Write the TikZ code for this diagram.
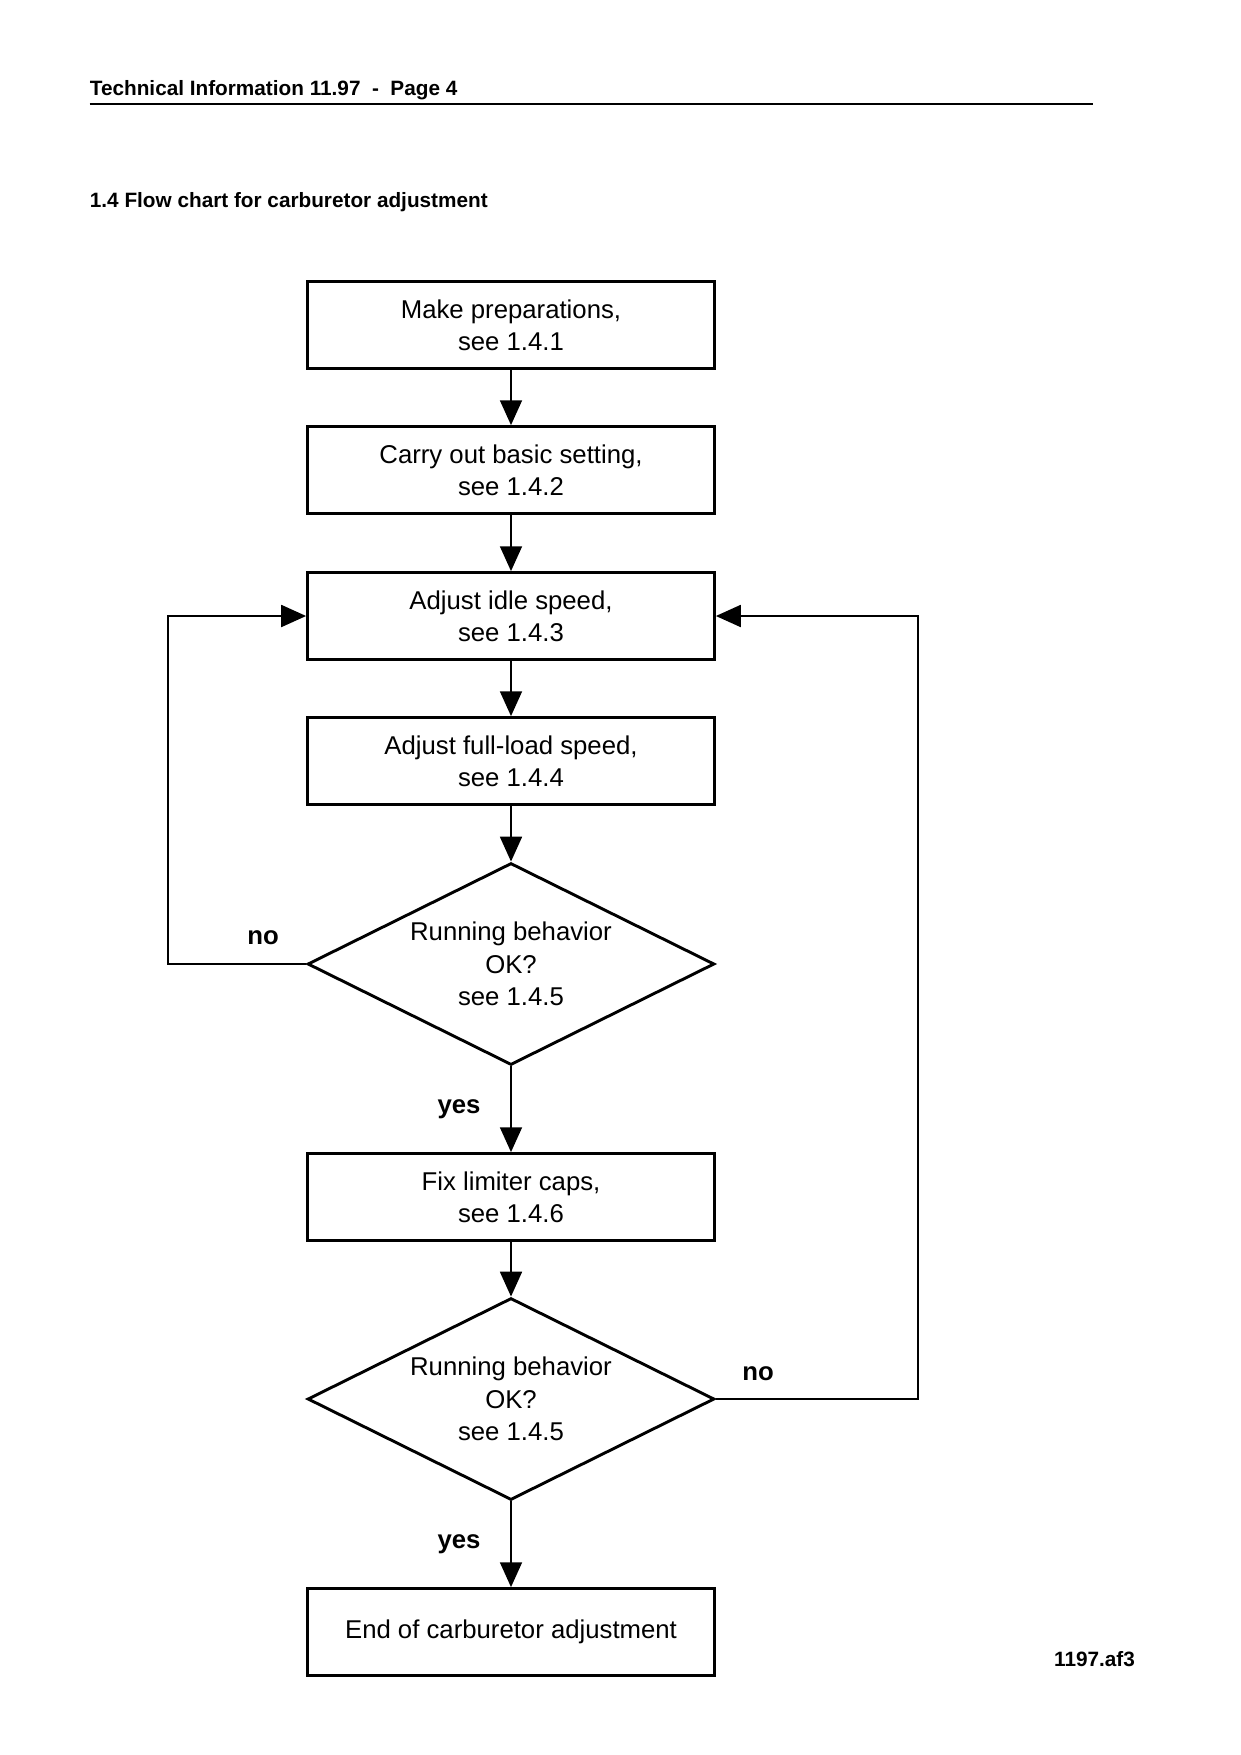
\documentclass[tikz,border=0pt]{standalone}
\usepackage{fontspec}
\setmainfont{Liberation Sans}
\usetikzlibrary{arrows.meta, shapes.geometric}

\tikzset{
  procbox/.style={draw, line width=1.4pt, minimum width=6.89cm, minimum height=1.47cm,
    inner sep=0pt, align=center, font=\fontsize{12.4}{15.6}\selectfont},
  testdiam/.style={draw, diamond, aspect=2, line width=1.4pt, minimum width=6.89cm,
    minimum height=3.42cm, inner sep=0pt, align=center, font=\fontsize{12.4}{15.6}\selectfont},
  flowline/.style={line width=1.2pt, -{Triangle[length=12pt,width=10.5pt]}},
  answer/.style={font=\bfseries\fontsize{12.4}{15}\selectfont},
  pagetext/.style={anchor=west, inner sep=0pt, font=\bfseries\fontsize{10}{12}\selectfont}
}

\begin{document}
\begin{tikzpicture}[x=0.016935cm, y=-0.016935cm]
\useasboundingbox (0,0) rectangle (1240,1755);
% Page head
\node[pagetext] (head) at (89.5,90) {Technical Information 11.97\ \ -\ \ Page 4};
\coordinate (rulea) at (89.5,104);
\coordinate (ruleb) at (1093,104);
\draw[line width=0.6pt] (rulea) -- (ruleb);
\node[pagetext] (title) at (89.5,202.5) {1.4 Flow chart for carburetor adjustment};
% Steps of the chart
\node[procbox] (prep) at (511,325) {Make preparations,\\see 1.4.1};
\node[procbox] (basic) at (511,470) {Carry out basic setting,\\see 1.4.2};
\node[procbox] (idle) at (511,616) {Adjust idle speed,\\see 1.4.3};
\node[procbox] (full) at (511,761) {Adjust full-load speed,\\see 1.4.4};
\node[testdiam] (check1) at (511,964) {Running behavior\\OK?\\see 1.4.5};
\node[procbox] (caps) at (511,1197) {Fix limiter caps,\\see 1.4.6};
\node[testdiam] (check2) at (511,1399) {Running behavior\\OK?\\see 1.4.5};
\node[procbox] (done) at (511,1632) {End of carburetor adjustment};
% Corners of the two loops
\coordinate (loopl) at (168,964);
\coordinate (loopr) at (918,1399);
% Straight flow
\draw[flowline] (prep) -- (basic);
\draw[flowline] (basic) -- (idle);
\draw[flowline] (idle) -- (full);
\draw[flowline] (full) -- (check1.north);
\draw[flowline] (check1.south) -- (caps);
\draw[flowline] (caps) -- (check2.north);
\draw[flowline] (check2.south) -- (done);
% Loops back to the idle speed
\draw[flowline] (check1.west) -- (loopl) |- (idle.west);
\draw[flowline] (check2.east) -- (loopr) |- (idle.east);
% Answers
\node[answer] (no1) at (263,938) {no};
\node[answer] (yes1) at (459,1109) {yes};
\node[answer] (no2) at (758,1374) {no};
\node[answer] (yes2) at (459,1544) {yes};
% Figure number
\node[pagetext, anchor=center] (fignum) at (1094.5,1659.5) {1197.af3};
\end{tikzpicture}
\end{document}
